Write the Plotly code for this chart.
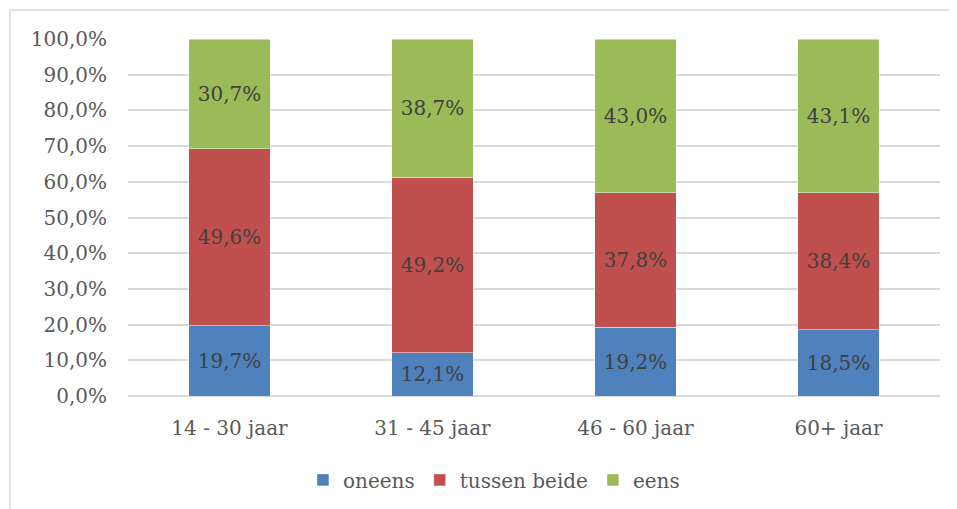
import plotly.graph_objects as go

categories = ["14 - 30 jaar", "31 - 45 jaar", "46 - 60 jaar", "60+ jaar"]
oneens = [19.7, 12.1, 19.2, 18.5]
tussen_beide = [49.6, 49.2, 37.8, 38.4]
eens = [30.7, 38.7, 43.0, 43.1]
series_names = ["oneens", "tussen beide", "eens"]
tick_values = [0, 10, 20, 30, 40, 50, 60, 70, 80, 90, 100]
tick_labels = ["0,0%", "10,0%", "20,0%", "30,0%", "40,0%", "50,0%",
               "60,0%", "70,0%", "80,0%", "90,0%", "100,0%"]

colors = ["#4F81BD", "#C0504D", "#9BBB59"]
FONT = "DejaVu Serif"


def fmt(v):
    return f"{v:.1f}".replace(".", ",") + "%"


fig = go.Figure()
for name, vals, col in zip(series_names, [oneens, tussen_beide, eens], colors):
    fig.add_trace(go.Bar(
        name=name, x=categories, y=vals,
        marker=dict(color=col, line=dict(color="rgba(255,255,255,0.6)", width=0.8)),
        text=[fmt(v) for v in vals],
        textposition="inside", insidetextanchor="middle", textangle=0,
        constraintext="none",
        textfont=dict(family=FONT, size=20, color="#404040"),
        hoverinfo="skip",
    ))

# page body has an 8px margin: size and margins compensate for it
fig.update_layout(
    width=949, height=501,
    barmode="stack", bargap=0.6,
    paper_bgcolor="white", plot_bgcolor="white",
    margin=dict(l=120, r=17, t=31, b=113, autoexpand=False),
    font=dict(family=FONT, size=20, color="#595959"),
    showlegend=True,
    legend=dict(orientation="h", x=0.4507, xanchor="center", y=-0.235, yanchor="middle",
                traceorder="normal", font=dict(family=FONT, size=20, color="#595959"),
                itemwidth=30, bgcolor="rgba(0,0,0,0)"),
    xaxis=dict(showgrid=False, showline=False, ticks="", ticklabelstandoff=18,
               tickfont=dict(family=FONT, size=20, color="#595959")),
    yaxis=dict(range=[0, 100], tickvals=tick_values, ticktext=tick_labels,
               showgrid=True, gridcolor="#D9D9D9", gridwidth=1.5,
               zeroline=True, zerolinecolor="#D9D9D9", zerolinewidth=1.5,
               showline=False, ticks="", ticklabelstandoff=20,
               tickfont=dict(family=FONT, size=20, color="#595959")),
    shapes=[dict(type="rect", xref="paper", yref="paper",
                 x0=(10 - 128) / 812, x1=(1000 - 128) / 812,
                 y0=(396 - 560) / 357, y1=(396 - 10) / 357,
                 line=dict(color="#D9D9D9", width=1.5), fillcolor="rgba(0,0,0,0)",
                 layer="below")],
)

fig.write_html("out.html")
